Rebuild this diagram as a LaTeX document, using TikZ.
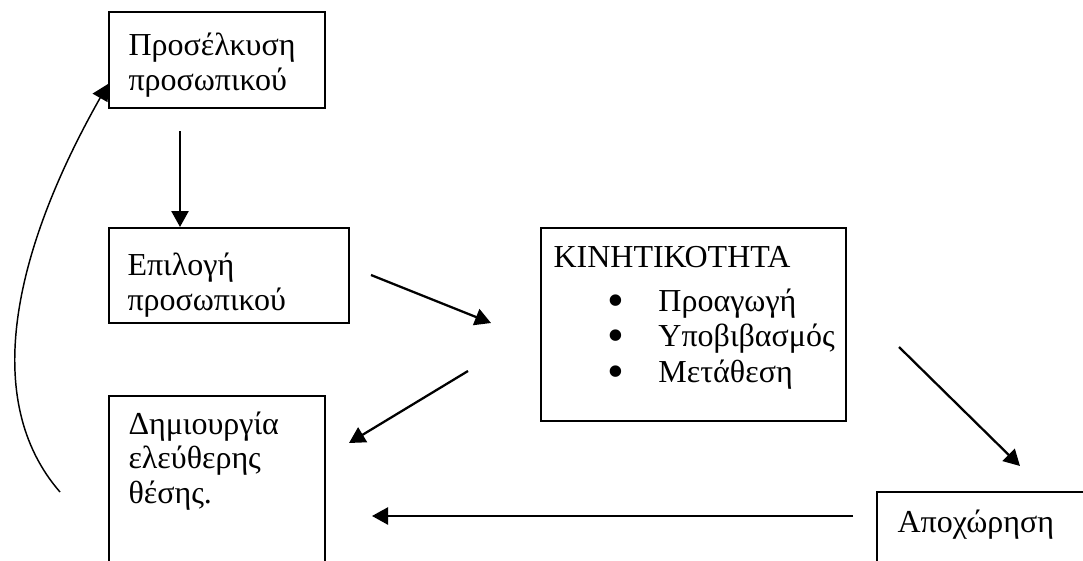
\documentclass[tikz,border=0pt]{standalone}
\usepackage{fontspec}
\setmainfont{Liberation Serif}
\usetikzlibrary{arrows.meta}

\tikzset{
  frame/.style={draw, line width=0.8pt, anchor=north west, inner sep=0pt},
  boxtext/.style={anchor=base west, align=left, inner sep=0pt,
    font=\fontsize{12}{12.8}\selectfont},
  arr/.style={line width=0.85pt, -{Triangle[length=6pt, width=6.4pt]}},
}
\newcommand{\bigbullet}{\smash{\raisebox{-2pt}{\makebox[19.1pt][l]{\scalebox{1.5}{\textbullet}}}}}

\begin{document}
\begin{tikzpicture}[x=0.375pt, y=-0.375pt]
  \useasboundingbox (0,0) rectangle (1083,561);

  % boxes
  \node[frame, minimum width=81pt, minimum height=36pt] (attract) at (108,11) {};
  \node[frame, minimum width=90pt, minimum height=35.6pt] (select) at (108,227) {};
  \node[frame, minimum width=114.4pt, minimum height=72.4pt] (mobility) at (540,227) {};
  \node[frame, minimum width=81pt, minimum height=82.5pt] (vacancy) at (108,395) {};
  \node[frame, minimum width=90pt, minimum height=45pt] (leave) at (876,491) {};

  % texts (base = last line)
  \node[boxtext] (attract-text) at (128,90) {Προσέλκυση\\προσωπικού};
  \node[boxtext] (select-text) at (127,310) {Επιλογή\\προσωπικού};
  \node[boxtext] (mobility-text) at (553,267) {ΚΙΝΗΤΙΚΟΤΗΤΑ};
  \foreach \y/\word in {311/Προαγωγή, 346/Υποβιβασμός, 382/Μετάθεση} {
    \node[boxtext] (item-\y) at (607,\y) {\bigbullet\word};
  }
  \node[boxtext] (vacancy-text) at (128,503) {Δημιουργία\\ελεύθερης\\θέσης.};
  \node[boxtext] (leave-text) at (897,532) {Αποχώρηση};

  % arrows
  \coordinate (down-start) at (180,131);
  \draw[arr] (down-start) -- (down-start |- select.north);
  \coordinate (sel-out) at (371,275);
  \coordinate (mob-in) at (491,323);
  \draw[arr] (sel-out) -- (mob-in);
  \coordinate (mob-out-left) at (468,371);
  \coordinate (vac-in) at (349,443);
  \draw[arr] (mob-out-left) -- (vac-in);
  \coordinate (mob-out-right) at (899,347);
  \coordinate (leave-in) at (1020,466);
  \draw[arr] (mob-out-right) -- (leave-in);
  \coordinate (leave-out) at (853,516);
  \coordinate (vac-in-low) at (372,516);
  \draw[arr] (leave-out) -- (vac-in-low);

  % loop back to recruitment
  \coordinate (loop-start) at (60,492);
  \coordinate (attract-in) at (108,84);
  \draw[line width=0.55pt, -{Triangle[length=6pt, width=6.4pt]}]
    (loop-start) .. controls (-20,400) and (14,250) .. (attract-in);
\end{tikzpicture}
\end{document}
